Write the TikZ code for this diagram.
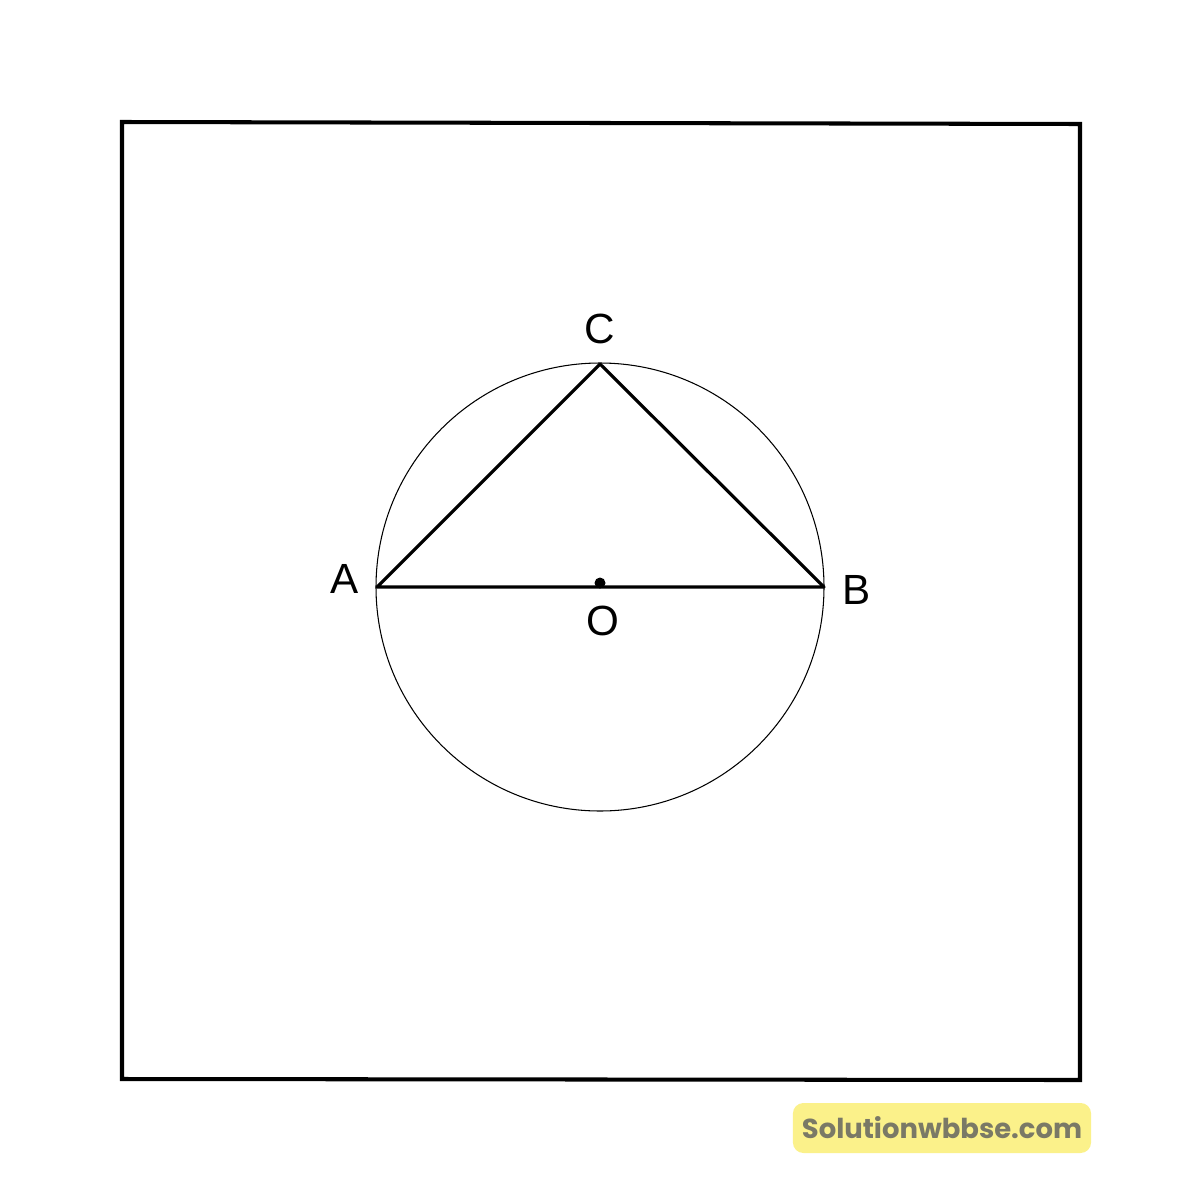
\documentclass[tikz,border=0pt]{standalone}
\usepackage{fontspec}
\setmainfont{Liberation Sans}
\newfontfamily\markfont{Poppins}
\usetikzlibrary{positioning}
\definecolor{markyellow}{HTML}{FBF18A}
\definecolor{markgray}{HTML}{7A7966}

\begin{document}
\begin{tikzpicture}[x=0.01cm, y=-0.01cm, node distance=1mm,
    label/.style={font=\fontsize{12}{12}\selectfont, inner sep=0pt}]
    \useasboundingbox (0,0) rectangle (1200,1200);
    \draw[line width=1.15pt] (122,122) -- (1080,124) -- (1080,1080) -- (122,1079) -- cycle;

    \coordinate (O) at (600,587);
    \coordinate (A) at (377,587);
    \coordinate (B) at (824,587);
    \coordinate (C) at (600,364);
    \draw[line width=0.3pt] (O) circle (224);
    \draw[line width=0.9pt, line join=round] (A) -- (C) -- (B) -- cycle;
    \fill (600,583) circle (5.5);

    \node[label, left = 1.8mm of A, yshift=0.8mm] (labelA) {A};
    \node[label, right = 1.8mm of B, yshift=-0.3mm] (labelB) {B};
    \node[label, above = 1.9mm of C] (labelC) {C};
    \node[label, below = 1.8mm of O, xshift=0.3mm] (labelO) {O};

    \node[fill=markyellow, rounded corners=3pt, inner xsep=0.5mm, minimum width=2.98cm, minimum height=0.5cm,
        font=\markfont\bfseries\fontsize{7.8}{7.8}\selectfont, text=markgray] (mark) at (942,1128) {Solutionwbbse.com};
\end{tikzpicture}
\end{document}
